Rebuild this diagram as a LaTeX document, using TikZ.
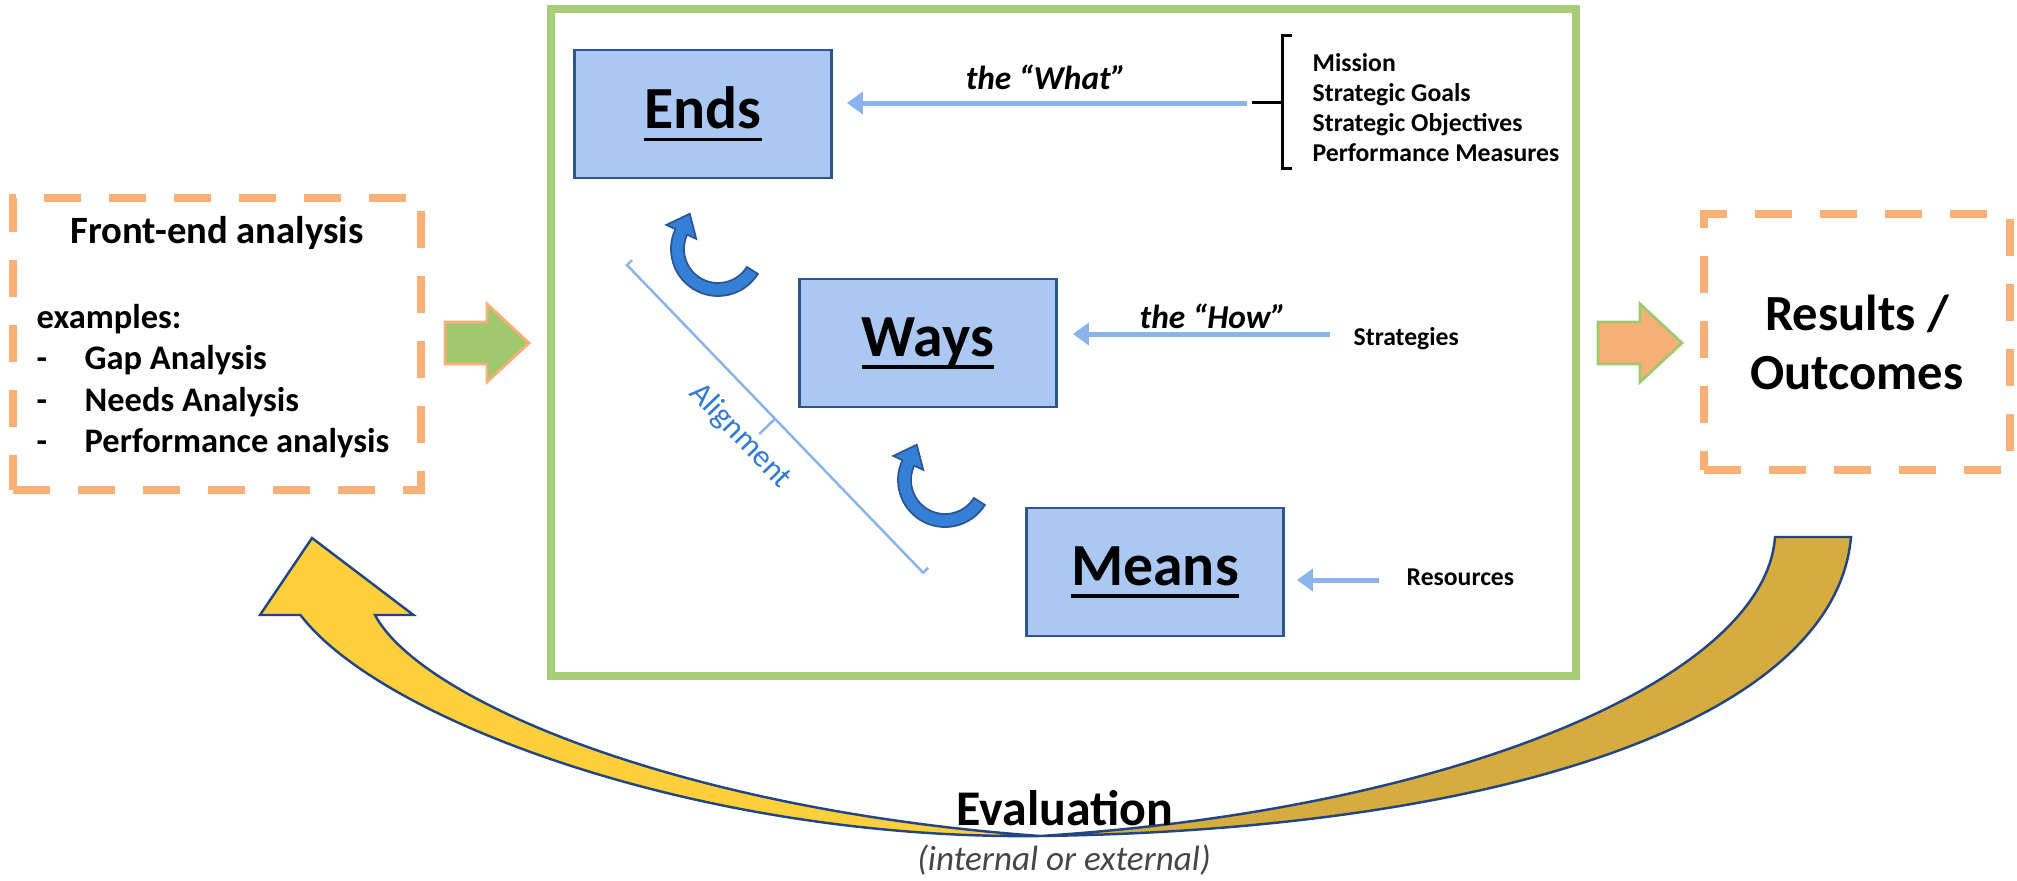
\documentclass[tikz,border=0pt]{standalone}
\usepackage{fontspec}
\setmainfont{Carlito}
\usetikzlibrary{arrows.meta,calc,positioning}

\definecolor{dashorange}{RGB}{248,176,118}
\definecolor{framegreen}{RGB}{168,205,120}
\definecolor{arrowgreen}{RGB}{160,200,110}
\definecolor{boxfill}{RGB}{170,200,242}
\definecolor{boxline}{RGB}{45,85,145}
\definecolor{lightarrow}{RGB}{140,180,236}
\definecolor{turnblue}{RGB}{52,128,214}
\definecolor{alignblue}{RGB}{50,122,212}
\definecolor{yellowside}{RGB}{255,208,60}
\definecolor{goldside}{RGB}{214,172,62}
\definecolor{edgeblue}{RGB}{35,70,130}
\definecolor{evalgray}{RGB}{70,70,70}

% thick underline as in the boxes
\newcommand{\ulword}[1]{\setbox0=\hbox{#1}\rlap{\rule[-0.125cm]{\wd0}{0.035cm}}\box0}

\tikzset{
  dashbox/.style={draw=dashorange, line width=0.08cm, dash pattern=on 0.37cm off 0.28cm},
  ewm/.style={draw=boxline, fill=boxfill, line width=0.8pt, minimum width=2.57cm,
    minimum height=1.28cm, font=\fontsize{17}{20}\selectfont\bfseries},
  feed/.style={draw=lightarrow, line width=0.05cm, -{Triangle[length=0.16cm,width=0.22cm]}},
  fe/.style={inner sep=0pt, font=\fontsize{9.8}{12}\selectfont\bfseries},
  small/.style={inner sep=0pt, font=\fontsize{7.3}{8.7}\selectfont\bfseries},
  cue/.style={inner sep=0pt, font=\fontsize{9.5}{11}\selectfont\bfseries\itshape},
  band/.style={draw=edgeblue, line width=0.7pt}
}

\begin{document}
\begin{tikzpicture}
\useasboundingbox (0,0) rectangle (20.17,-8.80);

% front-end analysis
\node[dashbox, minimum width=4.08cm, minimum height=2.92cm] (front) at (2.17,-3.44) {};
\node[fe, anchor=base, font=\fontsize{11}{13}\selectfont\bfseries] (fetitle) at (2.17,-2.43) {Front-end analysis};
\node[fe, anchor=base west] (feex) at (0.36,-3.28) {examples:};
\foreach \txt [count=\i] in {Gap Analysis, Needs Analysis, Performance analysis}
  {\node[fe, anchor=base west] (fedash\i) at (0.36,-3.28-0.415*\i) {-};
   \node[fe, anchor=base west] (feitem\i) at (0.84,-3.28-0.415*\i) {\txt};}

% the frame
\node[draw=framegreen, line width=0.08cm, minimum width=10.25cm, minimum height=6.67cm] (frame) at (10.635,-3.425) {};

% block arrows
\foreach \x/\fillc/\linec in {4.45/arrowgreen/dashorange, 15.98/dashorange/arrowgreen}
  \filldraw[fill=\fillc, draw=\linec, line width=0.8pt] (\x,-3.43) -- ++(0,0.21) -- ++(0.42,0)
    -- ++(0,0.18) -- ++(0.42,-0.39) -- ++(-0.42,-0.39) -- ++(0,0.18) -- ++(-0.42,0) -- cycle;

% ends, ways, means
\node[ewm] (ends) at (7.03,-1.14) {\ulword{Ends}};
\node[ewm] (ways) at (9.28,-3.43) {\ulword{Ways}};
\node[ewm] (means) at (11.55,-5.72) {\ulword{Means}};

% the what
\foreach \txt [count=\i] in {Mission, Strategic Goals, Strategic Objectives, Performance Measures}
  \node[small, anchor=base west] (goal\i) at (13.12,-0.41-0.30*\i) {\txt};
\draw[line width=0.03cm] (12.92,-0.35) -| (12.82,-1.02) -- (12.52,-1.02)
  (12.82,-1.02) |- (12.92,-1.68);
\coordinate (whatfrom) at (12.47,-1.03);
\draw[feed] (whatfrom) -- ([xshift=0.14cm]ends.east |- whatfrom);
\node[cue, anchor=base] (whatlbl) at (10.46,-0.89) {the “What”};

% the how
\node[small, anchor=base west] (strat) at (13.53,-3.45) {Strategies};
\coordinate (howfrom) at (13.30,-3.34);
\draw[feed] (howfrom) -- ([xshift=0.15cm]ways.east |- howfrom);
\node[cue, anchor=base] (howlbl) at (12.13,-3.28) {the “How”};

% resources
\node[small, anchor=base west] (res) at (14.06,-5.85) {Resources};
\coordinate (resfrom) at (13.79,-5.80);
\draw[feed] (resfrom) -- ([xshift=0.12cm]means.east |- resfrom);

% turning arrows
\foreach \cx/\cy in {7.18/-2.49, 9.45/-4.80}
  \filldraw[fill=turnblue, draw=boxline, line width=0.5pt]
    ($(\cx,\cy)+(-32:0.47)$) arc[start angle=-32, end angle=-205, radius=0.47]
    -- ($(\cx,\cy)+(155:0.57)$) -- ($(\cx,\cy)+(155:0.405)+(65:0.20)$)
    -- ($(\cx,\cy)+(155:0.24)$) -- ($(\cx,\cy)+(155:0.34)$)
    arc[start angle=155, end angle=328, radius=0.34] -- cycle;

% alignment
\begin{scope}[shift={(6.27,-2.65)}, rotate=-46.1]
  \draw[lightarrow, line width=0.025cm] (0,0.07) -- (0,0) -- (4.27,0) -- (4.27,0.07);
  \draw[lightarrow, line width=0.025cm] (2.135,0) -- (2.135,-0.22);
  \node[font=\fontsize{9}{10}\selectfont, text=alignblue, rotate=-46.1, inner sep=0pt] (alignlbl) at (2.02,-0.37) {Alignment};
\end{scope}

% results
\node[dashbox, minimum width=3.06cm, minimum height=2.56cm, align=center,
  font=\fontsize{14.4}{16.8}\selectfont\bfseries] (results) at (18.57,-3.42) {Results /\\Outcomes};

% evaluation loop
\filldraw[band, fill=goldside] (17.75,-5.37) -- (18.51,-5.37)
  .. controls (18.35,-7.20) and (15.00,-8.30) .. (10.40,-8.36)
  .. controls (14.50,-8.10) and (17.65,-6.80) .. cycle;
\filldraw[band, fill=yellowside] (10.40,-8.36)
  .. controls (7.00,-8.40) and (3.80,-7.20) .. (3.005,-6.15)
  -- (2.60,-6.15) -- (3.12,-5.38) -- (4.135,-6.15) -- (3.75,-6.15)
  .. controls (4.20,-7.00) and (6.80,-8.10) .. cycle;
\node[font=\fontsize{14.2}{17}\selectfont\bfseries, anchor=base, inner sep=0pt] (evaltxt) at (10.65,-8.25) {Evaluation};
\node[font=\fontsize{10}{12}\selectfont\itshape, text=evalgray, anchor=base, inner sep=0pt] (evalnote) at (10.64,-8.70) {(internal or external)};
\end{tikzpicture}
\end{document}
